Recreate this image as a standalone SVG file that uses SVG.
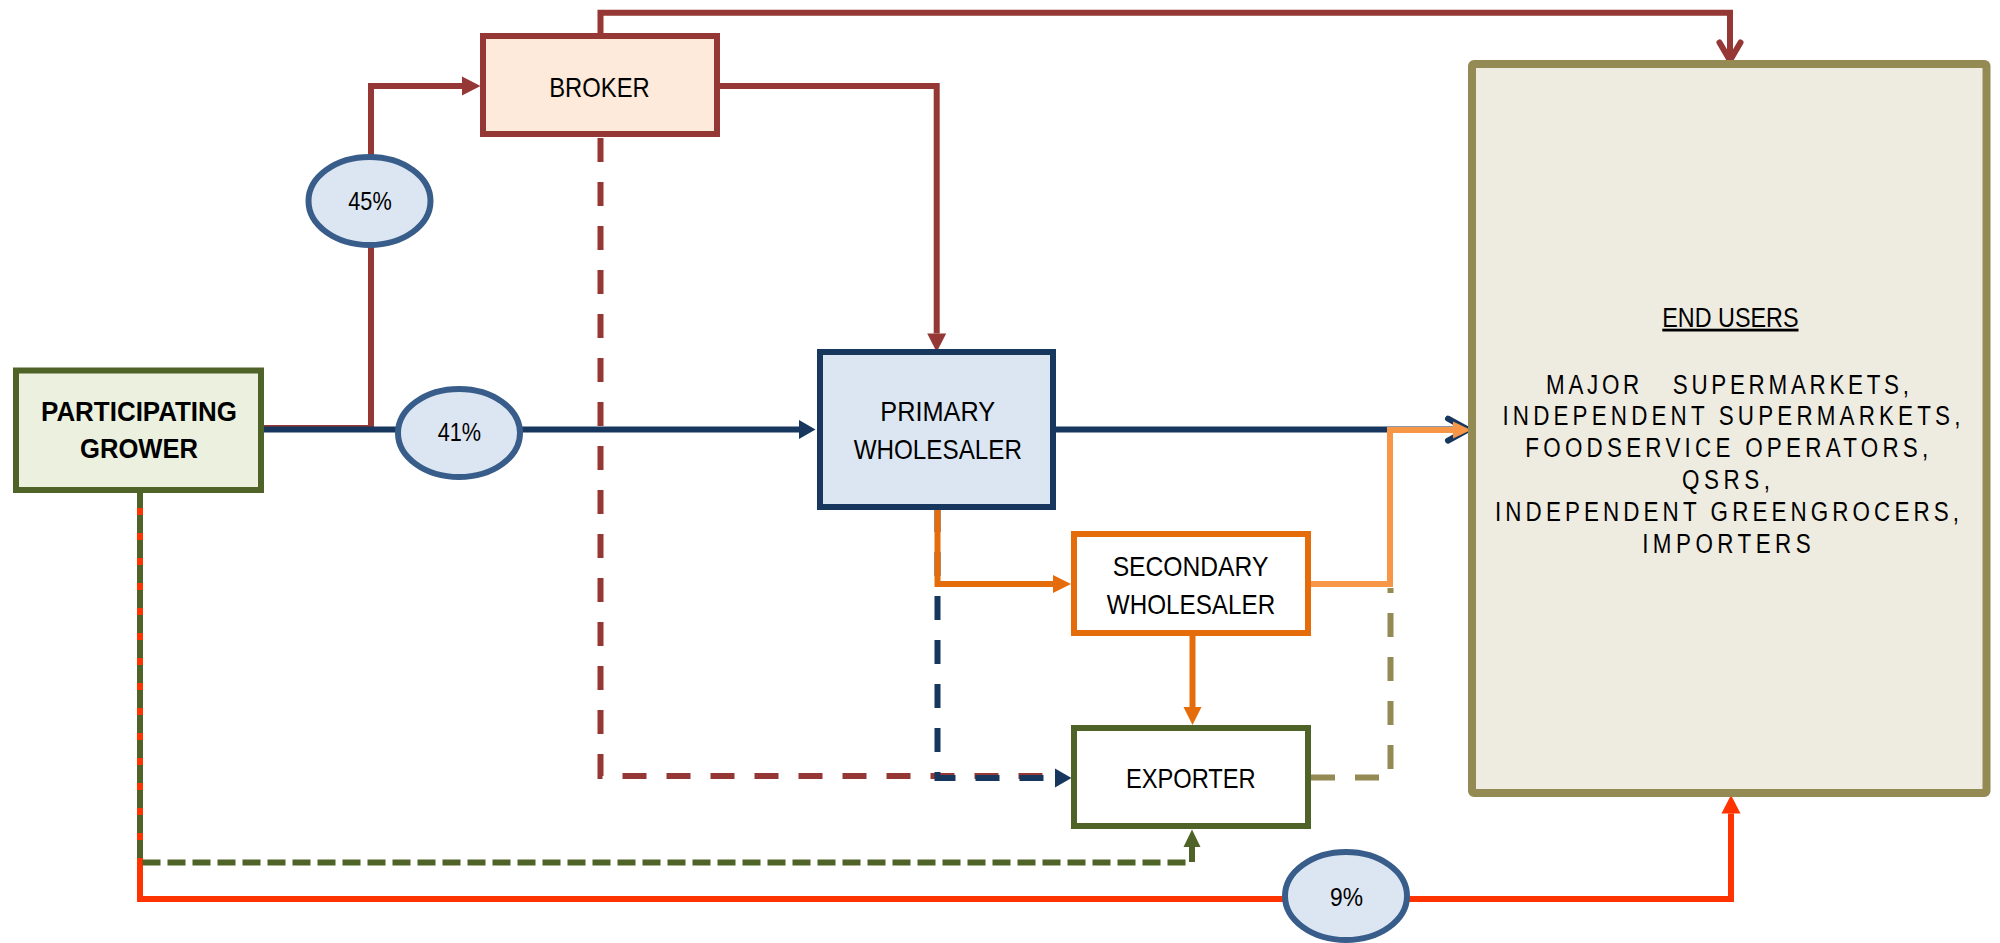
<svg xmlns="http://www.w3.org/2000/svg" width="2000" height="943" viewBox="0 0 2000 943">
<style>
.lbl{font-family:"Liberation Sans Narrow","Liberation Sans",Arial,sans-serif;fill:#000;text-anchor:middle;font-size:28px}
.b{font-weight:bold;font-size:27px}
.pct{font-size:26px}
.lst{font-family:"Liberation Sans Narrow","Liberation Sans",Arial,sans-serif;fill:#000;font-size:28px;white-space:pre}
.c{fill:none;stroke-width:6;stroke-linejoin:miter}
.red{stroke:#953735}
.navy{stroke:#17375E}
.org{stroke:#E46C0A}
.lorg{stroke:#F79646}
.grn{stroke:#4F6228}
.rorg{stroke:#FF3300}
.olv{stroke:#948A54}
.d1{stroke-dasharray:24 20}
.d2{stroke-dasharray:18 7}
.pill{fill:#DCE6F2;stroke:#385D8A;stroke-width:6}
</style>
<defs>
<marker id="tRed" markerUnits="userSpaceOnUse" markerWidth="20" markerHeight="20" refX="0" refY="0" orient="auto" overflow="visible"><path d="M0,-9.5 L18.5,0 L0,9.5 Z" fill="#953735"/></marker>
<marker id="tNavy" markerUnits="userSpaceOnUse" markerWidth="20" markerHeight="20" refX="0" refY="0" orient="auto" overflow="visible"><path d="M0,-9.5 L16.5,0 L0,9.5 Z" fill="#17375E"/></marker>
<marker id="tOrg" markerUnits="userSpaceOnUse" markerWidth="20" markerHeight="20" refX="0" refY="0" orient="auto" overflow="visible"><path d="M0,-9 L18,0 L0,9 Z" fill="#E46C0A"/></marker>
<marker id="tLorg" markerUnits="userSpaceOnUse" markerWidth="20" markerHeight="20" refX="0" refY="0" orient="auto" overflow="visible"><path d="M0,-8.5 L18,0 L0,8.5 Z" fill="#F79646"/></marker>
<marker id="tGrn" markerUnits="userSpaceOnUse" markerWidth="20" markerHeight="20" refX="0" refY="0" orient="auto" overflow="visible"><path d="M0,-8.5 L17.5,0 L0,8.5 Z" fill="#4F6228"/></marker>
<marker id="tRorg" markerUnits="userSpaceOnUse" markerWidth="20" markerHeight="20" refX="0" refY="0" orient="auto" overflow="visible"><path d="M0,-9.5 L18.5,0 L0,9.5 Z" fill="#FF3300"/></marker>
<marker id="vRed" markerUnits="userSpaceOnUse" markerWidth="30" markerHeight="30" refX="0" refY="0" orient="auto" overflow="visible"><path d="M-21,-10.5 L-3,0 L-21,10.5" fill="none" stroke="#953735" stroke-width="6" stroke-linecap="round" stroke-linejoin="round"/></marker>
<marker id="vNavy" markerUnits="userSpaceOnUse" markerWidth="30" markerHeight="30" refX="0" refY="0" orient="auto" overflow="visible"><path d="M-23,-11 L-3,0 L-23,11" fill="none" stroke="#17375E" stroke-width="6" stroke-linecap="round" stroke-linejoin="round"/></marker>
</defs>
<rect width="2000" height="943" fill="#fff"/>
<g id="connectors">
<path class="c red" d="M600.5,36 V12.7 H1730 V63.5" marker-end="url(#vRed)"/>
<path class="c red" d="M264,428 H371 V86 H462" marker-end="url(#tRed)"/>
<path class="c navy" d="M264,429.6 H799" marker-end="url(#tNavy)"/>
<path class="c red" d="M719,86 H936.7 V333.5" marker-end="url(#tRed)"/>
<path class="c navy" d="M1056,429.6 H1471" marker-end="url(#vNavy)"/>
<path class="c red d1" d="M600.5,138 V776 H1055"/>
<path class="c navy d1" d="M937.5,508 V778 H1055" marker-end="url(#tNavy)"/>
<path class="c org" d="M937.5,508 V584 H1053" marker-end="url(#tOrg)"/>
<path class="c org" d="M1192.5,636 V707" marker-end="url(#tOrg)"/>
<path class="c olv d1" d="M1311,777.5 H1390.5 V588"/>
<path class="c lorg" d="M1311,584 H1390 V430 H1453" marker-end="url(#tLorg)"/>
<path class="c rorg" d="M140,490 V899 H1731 V813.5" marker-end="url(#tRorg)"/>
<path class="c grn d2" d="M140,490 V862.5 H1192 V847" marker-end="url(#tGrn)"/>
</g>
<g id="grower">
<rect x="16" y="370.5" width="245" height="119.5" fill="#EBF1DE" stroke="#4F6228" stroke-width="6"/>
<text class="lbl b" x="139" y="420.7" textLength="196" lengthAdjust="spacingAndGlyphs">PARTICIPATING</text>
<text class="lbl b" x="139" y="458.3" textLength="118" lengthAdjust="spacingAndGlyphs">GROWER</text>
</g>
<g id="broker">
<rect x="483" y="36" width="234" height="98" fill="#FDEADA" stroke="#953735" stroke-width="6"/>
<text class="lbl" x="599.5" y="97.3" textLength="100.5" lengthAdjust="spacingAndGlyphs">BROKER</text>
</g>
<g id="primary-wholesaler">
<rect x="820" y="352" width="233" height="155" fill="#DCE6F2" stroke="#17375E" stroke-width="6"/>
<text class="lbl" x="937.7" y="420.7" textLength="114.8" lengthAdjust="spacingAndGlyphs">PRIMARY</text>
<text class="lbl" x="937.8" y="459" textLength="168.3" lengthAdjust="spacingAndGlyphs">WHOLESALER</text>
</g>
<g id="secondary-wholesaler">
<rect x="1074" y="534" width="234" height="99" fill="#fff" stroke="#E46C0A" stroke-width="6"/>
<text class="lbl" x="1190.5" y="576" textLength="155.7" lengthAdjust="spacingAndGlyphs">SECONDARY</text>
<text class="lbl" x="1191" y="614" textLength="168.3" lengthAdjust="spacingAndGlyphs">WHOLESALER</text>
</g>
<g id="exporter">
<rect x="1074" y="728" width="234" height="98" fill="#fff" stroke="#4F6228" stroke-width="6"/>
<text class="lbl" x="1190.8" y="787.7" textLength="129.8" lengthAdjust="spacingAndGlyphs">EXPORTER</text>
</g>
<g id="end-users">
<rect x="1472" y="64" width="514.5" height="729" rx="2" fill="#EEECE1" stroke="#948A54" stroke-width="8"/>
<text class="lbl" x="1730.4" y="326.7" textLength="136.2" lengthAdjust="spacingAndGlyphs" text-decoration="underline">END USERS</text>
<g transform="scale(0.8 1)">
<text class="lst" x="1932.5" y="394" textLength="453.75" lengthAdjust="spacing">MAJOR   SUPERMARKETS,</text>
<text class="lst" x="1878" y="425.5" textLength="572.5" lengthAdjust="spacing">INDEPENDENT SUPERMARKETS,</text>
<text class="lst" x="1906.6" y="457" textLength="503.75" lengthAdjust="spacing">FOODSERVICE OPERATORS,</text>
<text class="lst" x="2102.5" y="489" textLength="110" lengthAdjust="spacing">QSRS,</text>
<text class="lst" x="1868.75" y="521" textLength="580" lengthAdjust="spacing">INDEPENDENT GREENGROCERS,</text>
<text class="lst" x="2052.75" y="552.7" textLength="210.5" lengthAdjust="spacing">IMPORTERS</text>
</g>
</g>
<g id="share-45">
<ellipse class="pill" cx="369.5" cy="201" rx="61" ry="44"/>
<text class="lbl pct" x="370" y="210" textLength="43.4" lengthAdjust="spacingAndGlyphs">45%</text>
</g>
<g id="share-41">
<ellipse class="pill" cx="459" cy="433" rx="61" ry="44"/>
<text class="lbl pct" x="459.4" y="440.7" textLength="43.4" lengthAdjust="spacingAndGlyphs">41%</text>
</g>
<g id="share-9">
<ellipse class="pill" cx="1346" cy="896" rx="61" ry="44"/>
<text class="lbl pct" x="1346.5" y="905.7" textLength="33" lengthAdjust="spacingAndGlyphs">9%</text>
</g>
</svg>
